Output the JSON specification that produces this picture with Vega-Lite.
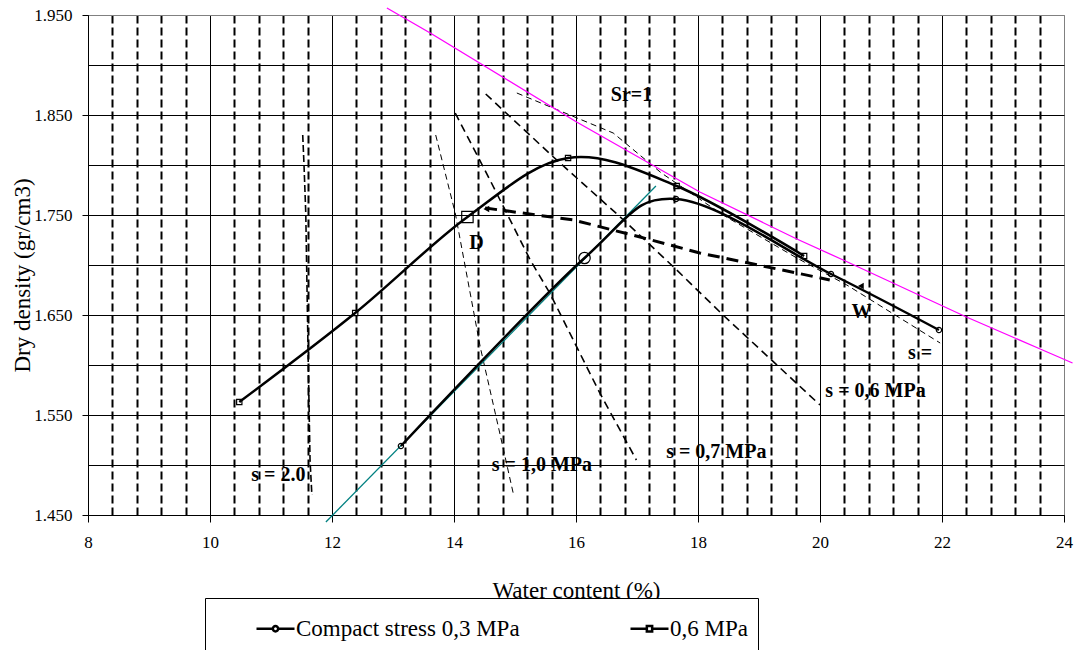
{
  "$schema": "https://vega.github.io/schema/vega-lite/v6.json",
  "autosize": {"type": "none"},
  "padding": {"left": 88, "top": 15, "right": 14, "bottom": 135},
  "width": 976,
  "height": 500,
  "background": "white",
  "config": {
    "font": "Liberation Serif",
    "view": {"stroke": "#808080", "strokeWidth": 1},
    "axis": {"labelFont": "Liberation Serif", "titleFont": "Liberation Serif", "labelColor": "black", "titleColor": "black", "titleFontWeight": "normal", "domainColor": "black", "tickColor": "black", "domainWidth": 1, "tickWidth": 1}
  },
  "datasets": {
    "curves": [
      {"w": 13.13, "rho": 1.519, "series": "Compact stress 0,3 MPa", "big": false},
      {"w": 16.14, "rho": 1.707, "series": "Compact stress 0,3 MPa", "big": true},
      {"w": 17.64, "rho": 1.766, "series": "Compact stress 0,3 MPa", "big": false},
      {"w": 20.18, "rho": 1.691, "series": "Compact stress 0,3 MPa", "big": false},
      {"w": 21.95, "rho": 1.635, "series": "Compact stress 0,3 MPa", "big": false},
      {"w": 10.48, "rho": 1.563, "series": "0,6 MPa", "big": false},
      {"w": 12.38, "rho": 1.652, "series": "0,6 MPa", "big": false},
      {"w": 14.22, "rho": 1.748, "series": "0,6 MPa", "big": true},
      {"w": 15.87, "rho": 1.807, "series": "0,6 MPa", "big": false},
      {"w": 17.65, "rho": 1.779, "series": "0,6 MPa", "big": false},
      {"w": 19.74, "rho": 1.709, "series": "0,6 MPa", "big": false}
    ],
    "sat": [
      {"w": 12.90, "rho": 1.957}, {"w": 13.61, "rho": 1.932}, {"w": 16.01, "rho": 1.843},
      {"w": 18.03, "rho": 1.773}, {"w": 19.62, "rho": 1.726}, {"w": 20.38, "rho": 1.705},
      {"w": 22.40, "rho": 1.648}, {"w": 23.61, "rho": 1.616}, {"w": 24.14, "rho": 1.602}
    ],
    "teal": [
      {"w": 11.90, "rho": 1.443}, {"w": 17.31, "rho": 1.779}
    ],
    "guides": [
      {"line": "a", "w": 11.52, "rho": 1.830}, {"line": "a", "w": 11.54, "rho": 1.802}, {"line": "a", "w": 11.57, "rho": 1.752},
      {"line": "a", "w": 11.61, "rho": 1.605}, {"line": "a", "w": 11.64, "rho": 1.505}, {"line": "a", "w": 11.67, "rho": 1.470},
      {"line": "b", "w": 13.70, "rho": 1.830}, {"line": "b", "w": 14.02, "rho": 1.752}, {"line": "b", "w": 14.43, "rho": 1.618},
      {"line": "b", "w": 14.75, "rho": 1.532}, {"line": "b", "w": 14.97, "rho": 1.472},
      {"line": "c", "w": 14.02, "rho": 1.852}, {"line": "c", "w": 14.59, "rho": 1.785}, {"line": "c", "w": 15.25, "rho": 1.705},
      {"line": "c", "w": 15.57, "rho": 1.672}, {"line": "c", "w": 16.39, "rho": 1.572}, {"line": "c", "w": 16.99, "rho": 1.505},
      {"line": "d", "w": 14.52, "rho": 1.871}, {"line": "d", "w": 15.63, "rho": 1.808}, {"line": "d", "w": 16.78, "rho": 1.745},
      {"line": "d", "w": 17.60, "rho": 1.698}, {"line": "d", "w": 18.41, "rho": 1.650}, {"line": "d", "w": 20.00, "rho": 1.560},
      {"line": "e", "w": 15.03, "rho": 1.872}, {"line": "e", "w": 16.61, "rho": 1.832}, {"line": "e", "w": 17.40, "rho": 1.792},
      {"line": "e", "w": 18.41, "rho": 1.750}, {"line": "e", "w": 19.62, "rho": 1.707}, {"line": "e", "w": 20.44, "rho": 1.680},
      {"line": "e", "w": 21.97, "rho": 1.622},
      {"line": "f", "w": 14.51, "rho": 1.757}, {"line": "f", "w": 15.96, "rho": 1.745}, {"line": "f", "w": 17.05, "rho": 1.728},
      {"line": "f", "w": 18.03, "rho": 1.712}, {"line": "f", "w": 19.62, "rho": 1.692}, {"line": "f", "w": 20.16, "rho": 1.685}
    ],
    "arrows": [
      {"w": 14.53, "rho": 1.756}, {"w": 20.67, "rho": 1.679}
    ],
    "notes": [
      {"w": 16.91, "rho": 1.870, "label": "Sr=1"},
      {"w": 11.12, "rho": 1.490, "label": "s = 2.0"},
      {"w": 15.44, "rho": 1.500, "label": "s = 1,0 MPa"},
      {"w": 18.30, "rho": 1.513, "label": "s = 0,7 MPa"},
      {"w": 20.91, "rho": 1.574, "label": "s = 0,6 MPa"},
      {"w": 21.64, "rho": 1.612, "label": "s ="},
      {"w": 14.37, "rho": 1.722, "label": "D"},
      {"w": 20.68, "rho": 1.653, "label": "W"}
    ]
  },
  "encoding": {
    "x": {
      "field": "w", "type": "quantitative",
      "scale": {"domain": [8, 24], "nice": false, "zero": false},
      "axis": {
        "values": [8, 8.4, 8.8, 9.2, 9.6, 10, 10.4, 10.8, 11.2, 11.6, 12, 12.4, 12.8, 13.2, 13.6, 14, 14.4, 14.8, 15.2, 15.6, 16, 16.4, 16.8, 17.2, 17.6, 18, 18.4, 18.8, 19.2, 19.6, 20, 20.4, 20.8, 21.2, 21.6, 22, 22.4, 22.8, 23.2, 23.6, 24],
        "title": "Water content  (%)",
        "titleFontSize": 23,
        "titleY": 82,
        "titleBaseline": "alphabetic",
        "grid": true,
        "gridOpacity": 1,
        "gridColor": {"condition": {"test": "datum.value > 23.99", "value": "#808080"}, "value": "black"},
        "gridDash": {"condition": {"test": "abs(datum.value/2 - round(datum.value/2)) < 0.01", "value": []}, "value": [8, 4]},
        "gridWidth": {"condition": {"test": "abs(datum.value/2 - round(datum.value/2)) < 0.01", "value": 1}, "value": 2},
        "tickSize": 7,
        "tickOpacity": {"condition": {"test": "abs(datum.value/2 - round(datum.value/2)) < 0.01", "value": 1}, "value": 0},
        "labelExpr": "abs(datum.value/2 - round(datum.value/2)) < 0.01 ? format(datum.value, 'd') : ''",
        "labelFontSize": 17,
        "labelPadding": 12,
        "labelOverlap": false,
        "labelFlush": false
      }
    },
    "y": {
      "field": "rho", "type": "quantitative",
      "scale": {"domain": [1.45, 1.95], "nice": false, "zero": false},
      "axis": {
        "values": [1.45, 1.5, 1.55, 1.6, 1.65, 1.7, 1.75, 1.8, 1.85, 1.9, 1.95],
        "title": "Dry density (gr/cm3)",
        "titleFontSize": 23,
        "titleX": -66,
        "titleY": 260,
        "titleBaseline": "middle",
        "format": ".3f",
        "labelExpr": "abs(datum.value*10 - floor(datum.value*10) - 0.5) < 0.01 ? datum.label : ''",
        "grid": true,
        "gridOpacity": 1,
        "gridColor": {"condition": {"test": "datum.value > 1.949", "value": "#808080"}, "value": "black"},
        "gridWidth": 1,
        "tickSize": 6,
        "tickOpacity": {"condition": {"test": "abs(datum.value*10 - floor(datum.value*10) - 0.5) < 0.01", "value": 1}, "value": 0},
        "labelFontSize": 17,
        "labelPadding": 10,
        "labelOverlap": false,
        "labelFlush": false
      }
    }
  },
  "layer": [
    {
      "data": {"name": "guides"},
      "transform": [{"filter": "datum.line == 'b' || datum.line == 'e'"}],
      "mark": {"type": "line", "color": "black", "strokeWidth": 1, "strokeDash": [6, 4]},
      "encoding": {"detail": {"field": "line"}}
    },
    {
      "data": {"name": "guides"},
      "transform": [{"filter": "datum.line == 'c' || datum.line == 'd'"}],
      "mark": {"type": "line", "color": "black", "strokeWidth": 1.6, "strokeDash": [8, 5]},
      "encoding": {"detail": {"field": "line"}}
    },
    {
      "data": {"name": "guides"},
      "transform": [{"filter": "datum.line == 'a'"}],
      "mark": {"type": "line", "color": "black", "strokeWidth": 1.6, "strokeDash": [7, 3]},
      "encoding": {"detail": {"field": "line"}}
    },
    {
      "data": {"name": "guides"},
      "transform": [{"filter": "datum.line == 'f'"}],
      "mark": {"type": "line", "color": "black", "strokeWidth": 3, "strokeDash": [12, 7]},
      "encoding": {"detail": {"field": "line"}}
    },
    {
      "data": {"name": "sat"},
      "mark": {"type": "line", "color": "#FF00FF", "strokeWidth": 1.3},
      "encoding": {}
    },
    {
      "data": {"name": "teal"},
      "mark": {"type": "line", "color": "#008080", "strokeWidth": 1.3},
      "encoding": {}
    },
    {
      "data": {"name": "curves"},
      "mark": {"type": "line", "strokeWidth": 2.5, "interpolate": "cardinal"},
      "encoding": {
        "color": {
          "field": "series", "type": "nominal",
          "scale": {"domain": ["Compact stress 0,3 MPa", "0,6 MPa"], "range": ["black", "black"]},
          "legend": {
            "orient": "none",
            "legendX": 117,
            "legendY": 583,
            "direction": "horizontal",
            "title": null,
            "padding": 10,
            "columnPadding": 65,
            "strokeColor": "black",
            "fillColor": "white",
            "symbolSize": 1444,
            "symbolOffset": 40,
            "symbolStrokeWidth": 2.5,
            "symbolFillColor": "white",
            "labelFont": "Liberation Serif",
            "labelFontSize": 23,
            "labelColor": "black",
            "labelOffset": 0,
            "labelLimit": 0,
            "labelExpr": "datum.label == '0,6 MPa' ? datum.label + '\u00a0\u00a0' : datum.label",
            "encode": {
              "symbols": {
                "update": {
                  "shape": [
                    {"test": "datum.value == '0,6 MPa'", "value": "M-3.1,0L-3.1,0M-1,0H-0.14M0.14,0H1M-0.14,-0.14H0.14V0.14H-0.14Z"},
                    {"value": "M-3.1,0L-3.1,0M-1,0H-0.14M0.14,0H1M0.14,0A0.14,0.14 0 1,1 -0.14,0A0.14,0.14 0 1,1 0.14,0"}
                  ],
                  "fill": {"value": "white"},
                  "stroke": {"value": "black"},
                  "strokeWidth": {"value": 2.5},
                  "strokeCap": {"value": "butt"}
                }
              }
            }
          }
        }
      }
    },
    {
      "data": {"name": "curves"},
      "transform": [{"filter": "!datum.big"}],
      "mark": {"type": "point", "filled": false, "color": "black", "strokeWidth": 1.2, "size": 28, "opacity": 1},
      "encoding": {
        "shape": {"field": "series", "type": "nominal", "scale": {"domain": ["0,6 MPa", "Compact stress 0,3 MPa"], "range": ["square", "circle"]}, "legend": null}
      }
    },
    {
      "data": {"name": "curves"},
      "transform": [{"filter": "datum.big"}],
      "mark": {"type": "point", "filled": false, "color": "black", "strokeWidth": 1.2, "size": 130, "opacity": 1},
      "encoding": {
        "shape": {"field": "series", "type": "nominal", "scale": {"domain": ["0,6 MPa", "Compact stress 0,3 MPa"], "range": ["square", "circle"]}, "legend": null}
      }
    },
    {
      "data": {"name": "arrows"},
      "mark": {"type": "point", "shape": "triangle-left", "filled": true, "color": "black", "size": 45, "opacity": 1},
      "encoding": {}
    },
    {
      "data": {"name": "notes"},
      "mark": {"type": "text", "font": "Liberation Serif", "fontWeight": "bold", "fontSize": 20, "color": "black", "align": "center", "baseline": "middle"},
      "encoding": {"text": {"field": "label"}}
    }
  ]
}
